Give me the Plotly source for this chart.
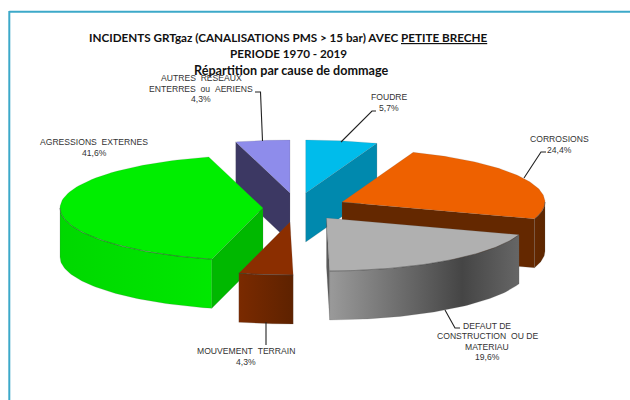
import numpy as np
import plotly.graph_objects as go

# ---- data ----
categories = ["FOUDRE", "CORROSIONS", "DEFAUT DE CONSTRUCTION OU DE MATERIAU",
              "MOUVEMENT TERRAIN", "AGRESSIONS EXTERNES", "AUTRES RESEAUX ENTERRES ou AERIENS"]
values = [5.7, 24.4, 19.6, 4.3, 41.6, 4.3]
value_labels = ["5,7%", "24,4%", "19,6%", "4,3%", "41,6%", "4,3%"]
title_lines = ["INCIDENTS GRTgaz (CANALISATIONS PMS > 15 bar) AVEC <u>PETITE BRECHE</u>",
               "PERIODE 1970 - 2019",
               "Répartition par cause de dommage"]

# ---- style / layout ----
W, H = 630, 400
RX, RY, DEPTH = 203.0, 53.0, 49.0
CENTER = (294.0, 208.0)
# explosion offset of each slice from the pie centre
EXPLODE = [(11.7, -15), (48, -6), (32.5, 10), (-4, 14), (-31, 0), (-4, -15)]
TOP = ["#00BCEB", "#EE6100", "#B0B0B0", "#8B2E00", "#00EE00", "#8E8CEB"]
RADIAL = ["#0089AE", "#642800", "#5A5A5A", "#732800", "#00B800", "#3C3863"]
WALL = [
    [[0, "#0089AE"], [1, "#0089AE"]],
    [[0, "#642800"], [1, "#5C2600"]],
    [[0, "#9A9A9A"], [0.7, "#454545"], [1, "#666666"]],
    [[0, "#7A2A00"], [1, "#5E2200"]],
    [[0, "#00D800"], [1, "#00E800"]],
    [[0, "#3C3863"], [1, "#3C3863"]],
]
EDGE = "rgba(50,50,50,0.55)"
SOFT = "rgba(90,90,90,0.3)"
DRAW_ORDER = [5, 0, 1, 4, 2, 3]

LABELS = [
    (["FOUDRE", value_labels[0]], 389, 97),
    (["CORROSIONS", value_labels[1]], 559, 139),
    (["DEFAUT DE", "CONSTRUCTION\u00a0\u00a0OU DE", "MATERIAU", value_labels[2]], 487, 325.7),
    (["MOUVEMENT\u00a0\u00a0TERRAIN", value_labels[3]], 245.5, 351),
    (["AGRESSIONS\u00a0\u00a0EXTERNES", value_labels[4]], 94, 142),
    (["AUTRES\u00a0\u00a0RESEAUX", "ENTERRES\u00a0\u00a0ou\u00a0\u00a0AERIENS", value_labels[5]], 201, 78),
]
LEADERS = [
    ([376, 372, 341], [111, 111, 142]),
    ([546, 541, 524], [152, 152, 178]),
    ([445, 455, 460], [310, 328, 328]),
    ([266, 266], [322, 345]),
    ([255, 260.5, 262.5], [92, 92, 141]),
]

fig = go.Figure()


def point(apex, deg):
    a = np.radians(deg)
    return apex[0] + RX * np.sin(a), apex[1] - RY * np.cos(a)


def poly(xs, ys, fill=None, gradient=None, line=EDGE, width=0.6):
    kw = dict(fillgradient=gradient) if gradient else dict(fillcolor=fill)
    fig.add_trace(go.Scatter(x=list(xs), y=list(ys), mode="lines", fill="toself",
                             line=dict(color=line, width=width), hoverinfo="skip",
                             showlegend=False, **kw))


total = sum(values)
edges = np.concatenate([[0], np.cumsum(values)]) / total * 360.0

for i in DRAW_ORDER:
    a0, a1 = edges[i], edges[i + 1]
    apex = (CENTER[0] + EXPLODE[i][0], CENTER[1] + EXPLODE[i][1])
    # radial faces visible from the front
    for ang in (a0, a1):
        visible = (ang > 180) if ang == a0 else (ang < 180)
        if visible:
            px, py = point(apex, ang)
            poly([apex[0], px, px, apex[0], apex[0]],
                 [apex[1], py, py + DEPTH, apex[1] + DEPTH, apex[1]], fill=RADIAL[i], line=SOFT)
    # outer curved wall: front half only
    lo, hi = max(a0, 90.0), min(a1, 270.0)
    if hi > lo:
        t = np.linspace(lo, hi, 60)
        xs, ys = point(apex, t)
        poly(np.r_[xs, xs[::-1], xs[0]],
             np.r_[ys, ys[::-1] + DEPTH, ys[0]],
             gradient=dict(type="horizontal", colorscale=WALL[i]), line=SOFT)
    # top face
    t = np.linspace(a0, a1, 80)
    xs, ys = point(apex, t)
    poly(np.r_[apex[0], xs, apex[0]], np.r_[apex[1], ys, apex[1]], fill=TOP[i], line=SOFT, width=0.5)
    # crisp edge where the top face meets the visible walls
    if hi > lo:
        t = np.linspace(lo, hi, 60)
        xs, ys = point(apex, t)
        fig.add_trace(go.Scatter(x=xs, y=ys, mode="lines", line=dict(color=EDGE, width=0.7),
                                 hoverinfo="skip", showlegend=False))

# leader lines
for lx, ly in LEADERS:
    fig.add_trace(go.Scatter(x=lx, y=ly, mode="lines", line=dict(color="#222222", width=1.1),
                             hoverinfo="skip", showlegend=False))

# labels
for lines, cx, y0 in LABELS:
    for k, s in enumerate(lines):
        fig.add_annotation(x=cx, y=y0 + k * 10.5, text=s, showarrow=False, xref="x", yref="y",
                           xanchor="center", yanchor="middle",
                           font=dict(family="Liberation Sans", size=8.6, color="#333333"))

for s, x, y, size in zip(title_lines, [288, 288, 291], [36.7, 52.7, 70.7], [11.7, 11.7, 12.6]):
    fig.add_annotation(x=x, y=y, text=s, showarrow=False, xref="x", yref="y",
                       xanchor="center", yanchor="middle",
                       font=dict(family="Lato", size=size, color="#111111", weight="bold"))

# frame of the picture
fig.add_shape(type="line", x0=9.3, x1=9.3, y0=11, y1=400, line=dict(color="#3CA9C9", width=2))
fig.add_shape(type="line", x0=9.3, x1=630, y0=11.7, y1=11.7, line=dict(color="#3CA9C9", width=2))

fig.update_layout(
    width=W, height=H, margin=dict(l=0, r=0, t=0, b=0),
    paper_bgcolor="white", plot_bgcolor="white", showlegend=False,
    xaxis=dict(range=[0, W], visible=False, fixedrange=True),
    yaxis=dict(range=[H, 0], visible=False, fixedrange=True),
)
fig.write_html("out.html", config={"displayModeBar": False},
               post_script="document.body.style.margin='0';document.documentElement.style.overflow='hidden';")
